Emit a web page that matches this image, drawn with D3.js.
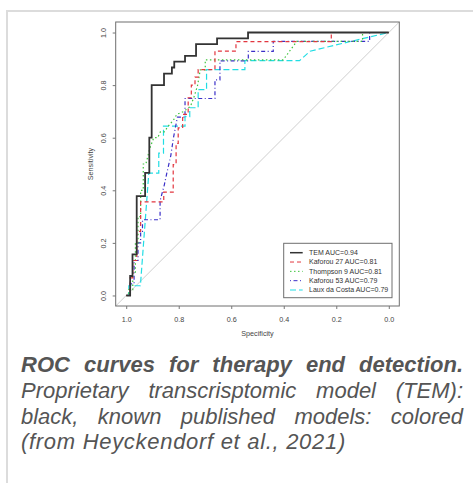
<!DOCTYPE html>
<html>
<head>
<meta charset="utf-8">
<script src="https://cdn.jsdelivr.net/npm/d3@7"></script>
<style>
  body { margin: 0; background: #fff; }
  #frame {
    position: absolute; left: 6px; top: 10px; width: 480px; height: 471px;
    border-left: 2px solid #dcdcdc; border-top: 2px solid #dcdcdc;
  }
  #chart { position: absolute; left: 0; top: 0; }
  #caption {
    position: absolute; left: 21px; top: 352px; width: 442px;
    font-family: "Liberation Sans", Arial, sans-serif; font-size: 22px;
    line-height: 25.8px; color: #555; font-style: italic;
  }
  #caption div { white-space: nowrap; text-align: justify; text-align-last: justify; }
  #caption div.last { text-align-last: left; letter-spacing: 0.7px; }
  #caption b { font-weight: bold; }
</style>
</head>
<body>
<div id="frame"></div>
<svg id="chart" width="473" height="345"></svg>
<div id="caption">
  <div><b>ROC curves for therapy end detection.</b></div>
  <div>Proprietary transcrisptomic model (TEM):</div>
  <div>black, known published models: colored</div>
  <div class="last">(from Heyckendorf et al., 2021)</div>
</div>
<script>
// model names and AUC values (legend)
const models = ["TEM", "Kaforou 27", "Thompson 9", "Kaforou 53", "Laux da Costa"];
const aucs = [0.94, 0.81, 0.81, 0.79, 0.79];
const lineColors = ["#333333", "#e2363f", "#3cc43c", "#3a2fc8", "#22dde4"];
const lineDashes = [null, "4,3", "1.5,2.5", "1,2.5,4,2.5", "6,3"];

// ROC curve vertices: [specificity, sensitivity]
const temPoints = [[1,0],[0.985,0],[0.985,0.074],[0.976,0.074],[0.976,0.156],[0.96,0.156],[0.96,0.378],
  [0.928,0.378],[0.928,0.466],[0.912,0.466],[0.912,0.6],[0.903,0.6],[0.903,0.8],[0.856,0.8],[0.856,0.844],
  [0.826,0.844],[0.826,0.867],[0.817,0.867],[0.817,0.889],[0.776,0.889],[0.776,0.911],[0.734,0.911],
  [0.734,0.956],[0.654,0.956],[0.654,0.978],[0.536,0.978],[0.536,1],[0,1]];
const kaforou27Points = [[1,0],[0.985,0],[0.985,0.067],[0.975,0.067],[0.975,0.133],[0.96,0.133],[0.96,0.244],
  [0.945,0.244],[0.945,0.356],[0.857,0.356],[0.857,0.393],[0.821,0.393],[0.821,0.498],[0.81,0.498],
  [0.81,0.578],[0.802,0.578],[0.802,0.637],[0.785,0.637],[0.785,0.689],[0.764,0.689],[0.764,0.752],
  [0.752,0.752],[0.752,0.8],[0.738,0.8],[0.738,0.83],[0.726,0.83],[0.726,0.859],[0.662,0.859],
  [0.662,0.929],[0.582,0.929],[0.582,0.965],[0.219,0.965],[0.219,1],[0,1]];
const thompson9Points = [[1,0],[0.99,0],[0.99,0.022],[0.975,0.022],[0.975,0.089],[0.965,0.089],[0.965,0.2],
  [0.955,0.2],[0.955,0.3],[0.945,0.3],[0.945,0.4],[0.935,0.4],[0.935,0.5],[0.925,0.5],[0.91,0.56],
  [0.895,0.6],[0.88,0.6],[0.87,0.622],[0.855,0.622],[0.84,0.644],[0.82,0.667],[0.807,0.689],[0.78,0.7],
  [0.755,0.72],[0.74,0.76],[0.728,0.8],[0.718,0.858],[0.699,0.858],[0.699,0.896],[0.402,0.896],
  [0.351,0.966],[0.1,0.966],[0.1,1],[0,1]];
const kaforou53Points = [[1,0],[0.985,0],[0.985,0.044],[0.97,0.044],[0.97,0.133],[0.955,0.133],[0.955,0.2],
  [0.945,0.2],[0.945,0.244],[0.938,0.244],[0.938,0.288],[0.871,0.288],[0.871,0.36],[0.855,0.42],
  [0.845,0.467],[0.83,0.533],[0.82,0.6],[0.805,0.678],[0.776,0.678],[0.776,0.749],[0.662,0.749],
  [0.662,0.82],[0.643,0.82],[0.643,0.892],[0.535,0.892],[0.535,0.928],[0.44,0.928],[0.44,0.966],
  [0.073,0.966],[0.073,1],[0,1]];
const lauxPoints = [[1,0],[0.99,0],[0.99,0.037],[0.946,0.037],[0.914,0.465],[0.876,0.465],[0.876,0.541],
  [0.858,0.541],[0.858,0.644],[0.776,0.644],[0.776,0.68],[0.758,0.68],[0.758,0.714],[0.726,0.714],
  [0.726,0.783],[0.694,0.783],[0.694,0.859],[0.548,0.859],[0.548,0.893],[0.34,0.893],[0.3,0.929],
  [0.15,0.965],[0,1]];
const curves = [temPoints, kaforou27Points, thompson9Points, kaforou53Points, lauxPoints];

const tickValues = [1.0, 0.8, 0.6, 0.4, 0.2, 0.0];

const svg = d3.select("#chart");
const font = '"Liberation Sans", Arial, sans-serif';
const box = { left: 115.7, right: 399.3, top: 22, bottom: 306 };

const x = d3.scaleLinear().domain([1.04, -0.04]).range([box.left, box.right]);
const y = d3.scaleLinear().domain([-0.04, 1.04]).range([box.bottom, box.top]);

// diagonal reference line
svg.append("line")
  .attr("x1", x(1.04)).attr("y1", y(-0.04))
  .attr("x2", x(-0.04)).attr("y2", y(1.04))
  .attr("stroke", "#cfcfcf").attr("stroke-width", 1);

// curves (draw coloured first, TEM on top last)
const line = d3.line().x((d) => x(d[0])).y((d) => y(d[1]));
const order = [4, 3, 2, 1, 0];
svg.append("g").selectAll("path")
  .data(order)
  .join("path")
  .attr("d", (i) => line(curves[i]))
  .attr("fill", "none")
  .attr("stroke", (i) => lineColors[i])
  .attr("stroke-width", (i) => (i === 0 ? 1.8 : 1.2))
  .attr("stroke-dasharray", (i) => lineDashes[i]);

// box
svg.append("rect")
  .attr("x", box.left).attr("y", box.top)
  .attr("width", box.right - box.left).attr("height", box.bottom - box.top)
  .attr("fill", "none").attr("stroke", "#6e6e6e").attr("stroke-width", 1);

// axes
const gx = svg.append("g")
  .attr("transform", `translate(0,${box.bottom})`)
  .call(d3.axisBottom(x).tickValues(tickValues).tickFormat(d3.format(".1f")).tickSize(3).tickSizeOuter(0));
gx.select(".domain").remove();
gx.selectAll(".tick line").attr("stroke", "#777");
gx.selectAll(".tick text")
  .attr("y", 15.5).attr("dy", "0")
  .attr("fill", "#444").style("font-family", font).style("font-size", "7.2px");

const gy = svg.append("g")
  .attr("transform", `translate(${box.left},0)`)
  .call(d3.axisLeft(y).tickValues(tickValues).tickFormat(d3.format(".1f")).tickSize(3).tickSizeOuter(0));
gy.select(".domain").remove();
gy.selectAll(".tick line").attr("stroke", "#777");
gy.selectAll(".tick text")
  .attr("x", 0).attr("dy", "0")
  .attr("transform", "translate(-9.5,0) rotate(-90)")
  .attr("text-anchor", "middle")
  .attr("fill", "#444").style("font-family", font).style("font-size", "7.2px");

// axis titles
svg.append("text")
  .attr("x", (box.left + box.right) / 2).attr("y", 336)
  .attr("text-anchor", "middle")
  .attr("fill", "#444").style("font-family", font).style("font-size", "7.2px")
  .text("Specificity");
svg.append("text")
  .attr("transform", `translate(92.5,${(box.top + box.bottom) / 2}) rotate(-90)`)
  .attr("text-anchor", "middle")
  .attr("fill", "#444").style("font-family", font).style("font-size", "7.2px")
  .text("Sensitivity");

// legend
const legend = svg.append("g").attr("transform", "translate(283.7,243.3)");
legend.append("rect")
  .attr("width", 108.3).attr("height", 54.4)
  .attr("fill", "#fff").attr("stroke", "#6e6e6e").attr("stroke-width", 1);
const ly = d3.scalePoint().domain(models).range([9.4, 46.7]);
const item = legend.selectAll(".item")
  .data(models)
  .join("g")
  .attr("class", "item")
  .attr("transform", (d) => `translate(0,${ly(d)})`);
item.append("line")
  .attr("x1", 6.3).attr("x2", 19)
  .attr("stroke", (d, i) => lineColors[i])
  .attr("stroke-width", (d, i) => (i === 0 ? 1.5 : 1))
  .attr("stroke-dasharray", (d, i) => lineDashes[i]);
item.append("text")
  .attr("x", 25.3).attr("dy", "0.35em")
  .attr("fill", "#333").style("font-family", font).style("font-size", "7px")
  .text((d, i) => `${d} AUC=${aucs[i].toFixed(2)}`);
</script>
</body>
</html>
